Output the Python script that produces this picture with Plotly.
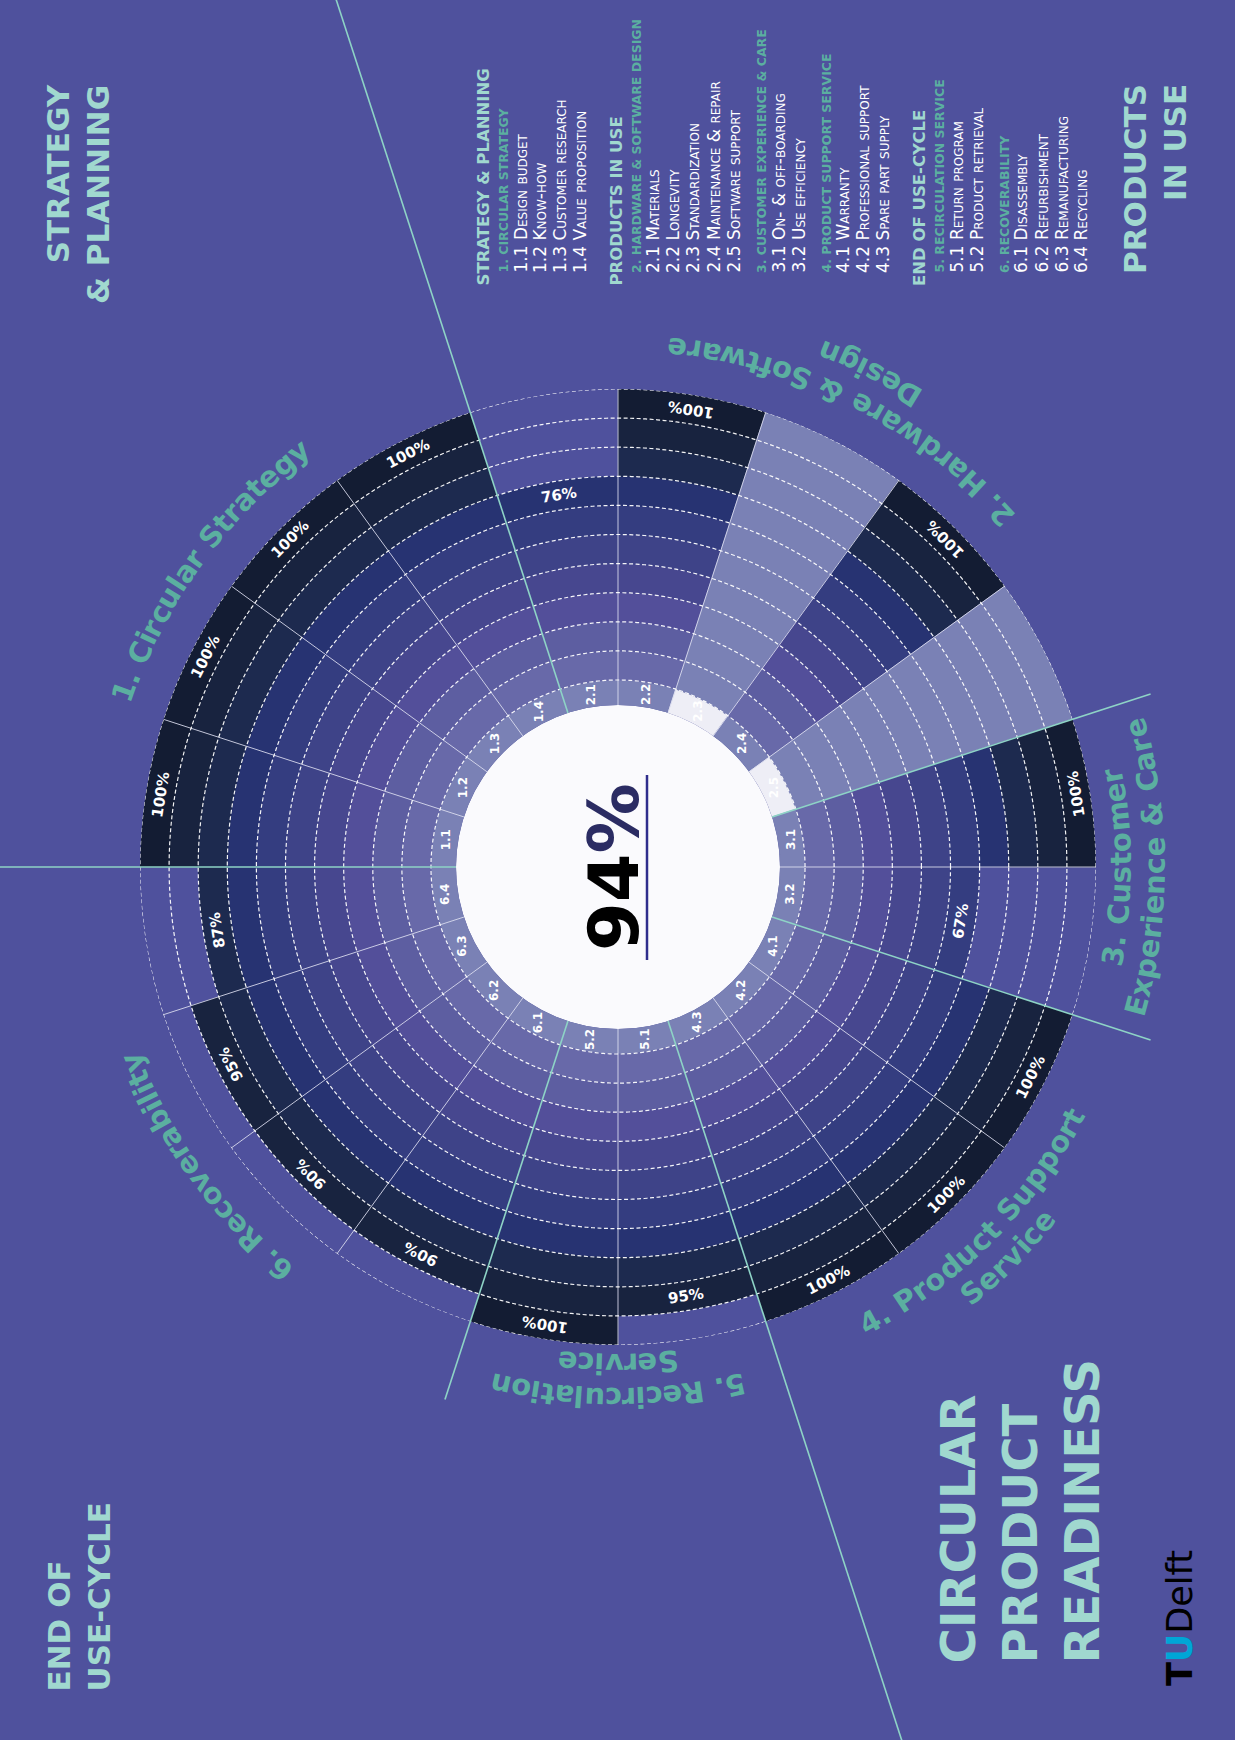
import math
import numpy as np
import plotly.graph_objects as go

# ---------------- data ----------------
category_names = [
    "1. Circular Strategy",
    "2. Hardware & Software<br>Design",
    "3. Customer<br>Experience & Care",
    "4. Product Support<br>Service",
    "5. Recirculation<br>Service",
    "6. Recoverability",
]
category_sizes = [4, 5, 2, 3, 2, 4]
phase_names = ["STRATEGY & PLANNING", "PRODUCTS IN USE", "END OF USE-CYCLE"]
phase_titles = ["STRATEGY<br>& PLANNING", "PRODUCTS<br>IN USE", "END OF<br>USE-CYCLE"]
category_phase = [0, 1, 1, 1, 2, 2]

item_codes = ["1.1", "1.2", "1.3", "1.4",
              "2.1", "2.2", "2.3", "2.4", "2.5",
              "3.1", "3.2",
              "4.1", "4.2", "4.3",
              "5.1", "5.2",
              "6.1", "6.2", "6.3", "6.4"]
item_names = ["Design budget", "Know-how", "Customer research", "Value proposition",
              "Materials", "Longevity", "Standardization", "Maintenance & repair", "Software support",
              "On- & off-boarding", "Use efficiency",
              "Warranty", "Professional support", "Spare part supply",
              "Return program", "Product retrieval",
              "Disassembly", "Refurbishment", "Remanufacturing", "Recycling"]
# readiness per item in percent, None = not applicable
item_scores = [100, 100, 100, 100,
               76, 100, None, 100, None,
               100, 67,
               100, 100, 100,
               95, 100,
               90, 90, 95, 87]

main_title = "CIRCULAR<br>PRODUCT<br>READINESS"

# ---------------- styling / geometry ----------------
W, H = 1235, 1740
CX, CY = 618, 867            # centre of the wheel (px)
R_HOLE, R_OUT = 162, 478     # inner / outer radius (px)
R_MIN, R_MAX = -0.86, 10     # radial units: label ring below 0, one unit per 10 %

BG = "#4F519D"
TEAL_LIGHT = "#A0D8CF"
TEAL = "#5BAFA0"
TEAL_LINE = "#8ED3C6"
RING_COLORS = ["#7A81B5", "#6869A9", "#5D5EA1", "#534F9A", "#47478F", "#3E4388",
               "#343D80", "#273372", "#1D2A4F", "#18233F", "#131C33"]
NA_LABEL_FILL = "#EEEEF6"
NA_FILL = "#7A81B5"

# radius (px) of the first line of each category name, and spacing between its lines
CAT_LABEL_R = [524, 522, 503, 520, 531, 524]
LINE_GAP = 34

# DejaVu Sans Bold advance widths (em) for laying text along arcs
DVB_W = {' ': 0.348, '.': 0.380, '&': 0.872, '-': 0.415,
         'C': 0.734, 'D': 0.830, 'E': 0.683, 'H': 0.837, 'P': 0.733, 'R': 0.770, 'S': 0.720,
         'a': 0.675, 'b': 0.716, 'c': 0.593, 'd': 0.716, 'e': 0.678, 'f': 0.435, 'g': 0.716,
         'h': 0.712, 'i': 0.343, 'l': 0.343, 'm': 1.042, 'n': 0.712, 'o': 0.687, 'p': 0.716,
         'r': 0.493, 's': 0.595, 't': 0.478, 'u': 0.712, 'v': 0.652, 'w': 0.924, 'x': 0.645,
         'y': 0.652}
for d in "0123456789":
    DVB_W[d] = 0.696


def to_paper(x, y):
    return x / W, 1 - y / H


def at_radius(rp, theta):
    t = math.radians(theta)
    return CX + rp * math.cos(t), CY - rp * math.sin(t)


def radial_px(r):
    return R_HOLE + (r - R_MIN) / (R_MAX - R_MIN) * (R_OUT - R_HOLE)


def is_left(theta):
    th = ((theta + 180) % 360) - 180
    return th > 90 or th <= -90


def norm_angle(a):
    return ((a + 180) % 360) - 180


def tangent_textangle(theta, left):
    d = theta - 90 if left else theta + 90
    return norm_angle(-d)


n_items = len(item_codes)
step = 360 / n_items
theta_items = [180 - step * (i + 0.5) for i in range(n_items)]
bounds = np.cumsum([0] + category_sizes)
theta_bounds = [180 - step * b for b in bounds[:-1]]
theta_cat_center = [180 - step * (bounds[c] + bounds[c + 1]) / 2 for c in range(len(category_sizes))]

fig = go.Figure()

# label ring
label_cols = [NA_LABEL_FILL if s is None else RING_COLORS[0] for s in item_scores]
fig.add_trace(go.Barpolar(
    r=[0 - R_MIN] * n_items, base=[R_MIN] * n_items, theta=theta_items,
    width=[step] * n_items,
    marker=dict(color=label_cols, line=dict(width=0.6, color=label_cols)),
    hoverinfo="skip",
))

# one ring of cells per 10 %
for k in range(1, 11):
    th, cols = [], []
    for t, s in zip(theta_items, item_scores):
        if s is None:
            th.append(t)
            cols.append(NA_FILL)
        elif s // 10 >= k:
            th.append(t)
            cols.append(RING_COLORS[k])
    fig.add_trace(go.Barpolar(
        r=[1] * len(th), base=[k - 1] * len(th), theta=th, width=[step] * len(th),
        marker=dict(color=cols, line=dict(width=0.6, color=cols)),
        hoverinfo="skip",
    ))

# thin spokes between items inside a category
cat_bound_set = set(int(b) for b in bounds)
sp_r, sp_t = [], []
for b in range(n_items):
    if b in cat_bound_set:
        continue
    ang = 180 - step * b
    sp_r += [R_MIN, R_MAX, None]
    sp_t += [ang, ang, None]
fig.add_trace(go.Scatterpolar(r=sp_r, theta=sp_t, mode="lines",
                              line=dict(color="rgba(225,226,242,0.85)", width=1),
                              hoverinfo="skip"))

# dashed grid circles
circ_t = np.linspace(0, 360, 721)
for k in range(0, 11):
    fig.add_trace(go.Scatterpolar(r=[k] * len(circ_t), theta=circ_t, mode="lines",
                                  line=dict(color="rgba(255,255,255,0.95)", width=1.2,
                                            dash="4px,2.5px"),
                                  hoverinfo="skip"))

annotations = []
shapes = []

# white centre disc
x0, y1 = to_paper(CX - R_HOLE, CY - R_HOLE)
x1, y0 = to_paper(CX + R_HOLE, CY + R_HOLE)
shapes.append(dict(type="circle", xref="paper", yref="paper", x0=x0, x1=x1, y0=y0, y1=y1,
                   fillcolor="#FAFAFD", line=dict(width=0), layer="below"))

# category separators: phase borders run to the page edge
for c, tb in enumerate(theta_bounds):
    long_line = category_phase[c - 1] != category_phase[c]
    r_end = 1400 if long_line else 560
    xa, ya = to_paper(*at_radius(R_HOLE, tb))
    xb, yb = to_paper(*at_radius(r_end, tb))
    shapes.append(dict(type="line", xref="paper", yref="paper", x0=xa, y0=ya, x1=xb, y1=yb,
                       line=dict(color=TEAL_LINE, width=1.6), layer="above"))

# item codes in the label ring
for t, code in zip(theta_items, item_codes):
    x, y = to_paper(*at_radius(radial_px(R_MIN / 2), t))
    annotations.append(dict(x=x, y=y, xref="paper", yref="paper", text=code, showarrow=False,
                            textangle=-90, xanchor="center", yanchor="middle",
                            font=dict(family="DejaVu Sans", size=12, color="white", weight="bold")))

# score labels in the outermost filled ring
for t, s in zip(theta_items, item_scores):
    if s is None:
        continue
    ring = s // 10
    x, y = to_paper(*at_radius(radial_px(ring - 0.5), t))
    annotations.append(dict(x=x, y=y, xref="paper", yref="paper", text=f"{s}%", showarrow=False,
                            textangle=tangent_textangle(t, is_left(t)),
                            xanchor="center", yanchor="middle",
                            font=dict(family="DejaVu Sans", size=15, color="white", weight="bold")))


# category names written along arcs
def arc_text(text, theta_c, radius, size, color, left):
    widths = [DVB_W.get(ch, 0.65) * size for ch in text]
    total = sum(widths)
    sign = -1 if left else 1
    start = theta_c - sign * math.degrees(total / 2 / radius)
    acc = 0.0
    for ch, w in zip(text, widths):
        th = start + sign * math.degrees((acc + w / 2) / radius)
        acc += w
        if ch == " ":
            continue
        x, y = to_paper(*at_radius(radius, th))
        annotations.append(dict(x=x, y=y, xref="paper", yref="paper", text=ch, showarrow=False,
                                textangle=tangent_textangle(th, left),
                                xanchor="center", yanchor="middle",
                                font=dict(family="DejaVu Sans", size=size, color=color,
                                          weight="bold")))


for name, tc, r0 in zip(category_names, theta_cat_center, CAT_LABEL_R):
    left = is_left(tc)
    for j, line in enumerate(name.split("<br>")):
        rad = r0 + (-j if left else j) * LINE_GAP
        arc_text(line, tc, rad, 29, TEAL, left)

# overall score in the centre
valid = [s for s in item_scores if s is not None]
overall = round(sum(valid) / len(valid))
cx_p, cy_p = to_paper(614, CY)
annotations.append(dict(x=cx_p, y=cy_p, xref="paper", yref="paper",
                        text=f"{overall}<span style='color:#2B2C63'>%</span>",
                        showarrow=False, textangle=-90, xanchor="center", yanchor="middle",
                        font=dict(family="DejaVu Sans", size=70, color="black", weight="bold")))
ux, uy0 = to_paper(647, 775)
_, uy1 = to_paper(647, 960)
shapes.append(dict(type="line", xref="paper", yref="paper", x0=ux, x1=ux, y0=uy0, y1=uy1,
                   line=dict(color="#2F2D8C", width=2.5), layer="above"))


# corner titles
def rotated_title(text, xc, yedge, anchor, align, size):
    x, y = to_paper(xc, yedge)
    annotations.append(dict(x=x, y=y, xref="paper", yref="paper", text=text, showarrow=False,
                            textangle=-90, xanchor="center", yanchor=anchor, align=align,
                            font=dict(family="DejaVu Sans", size=size, color=TEAL_LIGHT,
                                      weight="bold")))


rotated_title(phase_titles[0], 78, 82, "top", "right", 31)
rotated_title(phase_titles[1], 1155, 82, "top", "right", 31)
rotated_title(phase_titles[2], 78, 1694, "bottom", "left", 31)
rotated_title(main_title, 1020, 1666, "bottom", "left", 48)

# logo wordmark
lx, ly = to_paper(1180, 1618)
annotations.append(dict(x=lx, y=ly, xref="paper", yref="paper",
                        text="<b>T</b><b><span style='color:#00A6D6'>U</span></b>Delft",
                        showarrow=False, textangle=-90, xanchor="center", yanchor="middle",
                        font=dict(family="DejaVu Sans", size=35, color="black")))


# legend block (rotated columns)
def legend_line(text, x, ybottom, size, color, bold=False, smallcaps=False):
    xp, yp = to_paper(x, ybottom)
    font = dict(family="DejaVu Sans", size=size, color=color)
    if bold:
        font["weight"] = "bold"
    if smallcaps:
        font["variant"] = "small-caps"
    annotations.append(dict(x=xp, y=yp, xref="paper", yref="paper", text=text, showarrow=False,
                            textangle=-90, xanchor="center", yanchor="bottom", font=font,
                            borderpad=0))


x = 483
item_idx = 0
for p, pname in enumerate(phase_names):
    legend_line(pname, x, 287, 16.5, TEAL_LIGHT, bold=True)
    x += 20
    cats = [c for c in range(len(category_names)) if category_phase[c] == p]
    for c in cats:
        legend_line(category_names[c].replace("<br>", " ").upper(), x, 274, 12.5, TEAL, bold=True)
        x += 17
        for _ in range(category_sizes[c]):
            legend_line(f"{item_codes[item_idx]} {item_names[item_idx]}", x, 274, 17, "white",
                        smallcaps=True)
            item_idx += 1
            x += 20
        x += 8
    x += 8

fig.update_layout(
    width=W, height=H, margin=dict(l=0, r=0, t=0, b=0),
    paper_bgcolor=BG, plot_bgcolor=BG, showlegend=False,
    polar=dict(
        domain=dict(x=[(CX - R_OUT) / W, (CX + R_OUT) / W],
                    y=[1 - (CY + R_OUT) / H, 1 - (CY - R_OUT) / H]),
        hole=R_HOLE / R_OUT,
        bgcolor="rgba(0,0,0,0)",
        barmode="overlay",
        radialaxis=dict(range=[R_MIN, R_MAX], visible=False),
        angularaxis=dict(visible=False, rotation=0, direction="counterclockwise"),
    ),
    annotations=annotations,
    shapes=shapes,
)

fig.write_html("out.html")
